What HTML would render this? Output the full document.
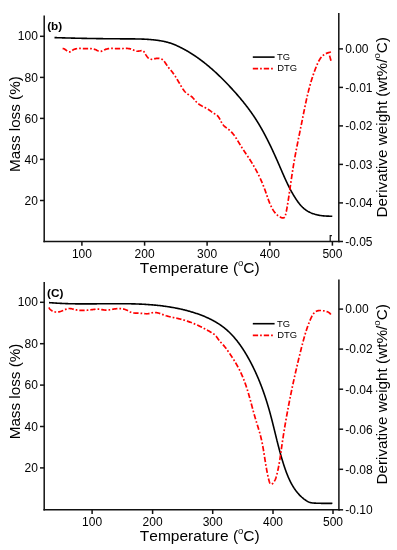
<!DOCTYPE html>
<html><head><meta charset="utf-8"><style>
html,body{margin:0;padding:0;background:#fff;}
svg{display:block;will-change:transform;}
text{font-family:"Liberation Sans", sans-serif;fill:#000;font-kerning:none;}
</style></head><body>
<svg width="397" height="550" viewBox="0 0 397 550">
<rect width="397" height="550" fill="#fff"/>
<line x1="44.2" y1="15.5" x2="44.2" y2="242.25" stroke="#111" stroke-width="1.5"/>
<line x1="338.8" y1="13.1" x2="338.8" y2="242.25" stroke="#111" stroke-width="1.5"/>
<line x1="43.45" y1="241.5" x2="339.55" y2="241.5" stroke="#111" stroke-width="1.5"/>
<line x1="40.0" y1="36.3" x2="44.2" y2="36.3" stroke="#111" stroke-width="1.5"/>
<text x="37.900000000000006" y="40.4" text-anchor="end" font-size="12">100</text>
<line x1="40.0" y1="77.4" x2="44.2" y2="77.4" stroke="#111" stroke-width="1.5"/>
<text x="37.900000000000006" y="81.5" text-anchor="end" font-size="12">80</text>
<line x1="40.0" y1="118.4" x2="44.2" y2="118.4" stroke="#111" stroke-width="1.5"/>
<text x="37.900000000000006" y="122.5" text-anchor="end" font-size="12">60</text>
<line x1="40.0" y1="159.4" x2="44.2" y2="159.4" stroke="#111" stroke-width="1.5"/>
<text x="37.900000000000006" y="163.5" text-anchor="end" font-size="12">40</text>
<line x1="40.0" y1="200.5" x2="44.2" y2="200.5" stroke="#111" stroke-width="1.5"/>
<text x="37.900000000000006" y="204.6" text-anchor="end" font-size="12">20</text>
<line x1="81.9" y1="241.5" x2="81.9" y2="245.7" stroke="#111" stroke-width="1.5"/>
<text x="81.9" y="257.6" text-anchor="middle" font-size="12">100</text>
<line x1="144.6" y1="241.5" x2="144.6" y2="245.7" stroke="#111" stroke-width="1.5"/>
<text x="144.6" y="257.6" text-anchor="middle" font-size="12">200</text>
<line x1="207.1" y1="241.5" x2="207.1" y2="245.7" stroke="#111" stroke-width="1.5"/>
<text x="207.1" y="257.6" text-anchor="middle" font-size="12">300</text>
<line x1="269.8" y1="241.5" x2="269.8" y2="245.7" stroke="#111" stroke-width="1.5"/>
<text x="269.8" y="257.6" text-anchor="middle" font-size="12">400</text>
<line x1="332.4" y1="241.5" x2="332.4" y2="245.7" stroke="#111" stroke-width="1.5"/>
<text x="332.4" y="257.6" text-anchor="middle" font-size="12">500</text>
<line x1="338.8" y1="48.9" x2="343.0" y2="48.9" stroke="#111" stroke-width="1.5"/>
<text x="345.2" y="53.199999999999996" font-size="12">0.00</text>
<line x1="338.8" y1="87.4" x2="343.0" y2="87.4" stroke="#111" stroke-width="1.5"/>
<text x="345.2" y="91.7" font-size="12">-0.01</text>
<line x1="338.8" y1="125.9" x2="343.0" y2="125.9" stroke="#111" stroke-width="1.5"/>
<text x="345.2" y="130.20000000000002" font-size="12">-0.02</text>
<line x1="338.8" y1="164.4" x2="343.0" y2="164.4" stroke="#111" stroke-width="1.5"/>
<text x="345.2" y="168.70000000000002" font-size="12">-0.03</text>
<line x1="338.8" y1="202.9" x2="343.0" y2="202.9" stroke="#111" stroke-width="1.5"/>
<text x="345.2" y="207.20000000000002" font-size="12">-0.04</text>
<line x1="338.8" y1="241.5" x2="343.0" y2="241.5" stroke="#111" stroke-width="1.5"/>
<text x="345.2" y="245.8" font-size="12">-0.05</text>
<text x="47.2" y="29.6" font-size="11.8" font-weight="bold">(b)</text>
<line x1="252.8" y1="57.1" x2="274.6" y2="57.1" stroke="#000" stroke-width="1.6"/>
<text x="277" y="59.9" font-size="9.4">TG</text>
<line x1="252.8" y1="68.7" x2="274.6" y2="68.7" stroke="#f00" stroke-width="1.7" stroke-dasharray="5.3 2 1.7 2"/>
<text x="277.2" y="71.3" font-size="9.4">DTG</text>
<text x="199.8" y="273.2" text-anchor="middle" font-size="15.5">Temperature (<tspan font-size="9.5" dy="-7.3">o</tspan><tspan dy="7.3">C)</tspan></text>
<text transform="translate(20.4,124.05) rotate(-90)" text-anchor="middle" font-size="15.25">Mass loss (%)</text>
<text transform="translate(387.3,127.3) rotate(-90)" text-anchor="middle" font-size="15.3">Derivative weight (wt%/<tspan font-size="9.5" dy="-7.3">o</tspan><tspan dy="7.3">C)</tspan></text>
<line x1="44.2" y1="281.9" x2="44.2" y2="510.55" stroke="#111" stroke-width="1.5"/>
<line x1="338.9" y1="279.4" x2="338.9" y2="510.55" stroke="#111" stroke-width="1.5"/>
<line x1="43.45" y1="509.8" x2="339.65" y2="509.8" stroke="#111" stroke-width="1.5"/>
<line x1="40.0" y1="302.3" x2="44.2" y2="302.3" stroke="#111" stroke-width="1.5"/>
<text x="37.900000000000006" y="306.40000000000003" text-anchor="end" font-size="12">100</text>
<line x1="40.0" y1="343.7" x2="44.2" y2="343.7" stroke="#111" stroke-width="1.5"/>
<text x="37.900000000000006" y="347.8" text-anchor="end" font-size="12">80</text>
<line x1="40.0" y1="385.1" x2="44.2" y2="385.1" stroke="#111" stroke-width="1.5"/>
<text x="37.900000000000006" y="389.20000000000005" text-anchor="end" font-size="12">60</text>
<line x1="40.0" y1="426.5" x2="44.2" y2="426.5" stroke="#111" stroke-width="1.5"/>
<text x="37.900000000000006" y="430.6" text-anchor="end" font-size="12">40</text>
<line x1="40.0" y1="467.9" x2="44.2" y2="467.9" stroke="#111" stroke-width="1.5"/>
<text x="37.900000000000006" y="472.0" text-anchor="end" font-size="12">20</text>
<line x1="92.1" y1="509.8" x2="92.1" y2="514.0" stroke="#111" stroke-width="1.5"/>
<text x="92.1" y="526.2" text-anchor="middle" font-size="12">100</text>
<line x1="152.6" y1="509.8" x2="152.6" y2="514.0" stroke="#111" stroke-width="1.5"/>
<text x="152.6" y="526.2" text-anchor="middle" font-size="12">200</text>
<line x1="212.7" y1="509.8" x2="212.7" y2="514.0" stroke="#111" stroke-width="1.5"/>
<text x="212.7" y="526.2" text-anchor="middle" font-size="12">300</text>
<line x1="273.0" y1="509.8" x2="273.0" y2="514.0" stroke="#111" stroke-width="1.5"/>
<text x="273.0" y="526.2" text-anchor="middle" font-size="12">400</text>
<line x1="333.0" y1="509.8" x2="333.0" y2="514.0" stroke="#111" stroke-width="1.5"/>
<text x="333.0" y="526.2" text-anchor="middle" font-size="12">500</text>
<line x1="338.9" y1="309.1" x2="343.09999999999997" y2="309.1" stroke="#111" stroke-width="1.5"/>
<text x="345.29999999999995" y="313.40000000000003" font-size="12">0.00</text>
<line x1="338.9" y1="349.1" x2="343.09999999999997" y2="349.1" stroke="#111" stroke-width="1.5"/>
<text x="345.29999999999995" y="353.40000000000003" font-size="12">-0.02</text>
<line x1="338.9" y1="389.2" x2="343.09999999999997" y2="389.2" stroke="#111" stroke-width="1.5"/>
<text x="345.29999999999995" y="393.5" font-size="12">-0.04</text>
<line x1="338.9" y1="429.2" x2="343.09999999999997" y2="429.2" stroke="#111" stroke-width="1.5"/>
<text x="345.29999999999995" y="433.5" font-size="12">-0.06</text>
<line x1="338.9" y1="469.3" x2="343.09999999999997" y2="469.3" stroke="#111" stroke-width="1.5"/>
<text x="345.29999999999995" y="473.6" font-size="12">-0.08</text>
<line x1="338.9" y1="509.8" x2="343.09999999999997" y2="509.8" stroke="#111" stroke-width="1.5"/>
<text x="345.29999999999995" y="514.1" font-size="12">-0.10</text>
<text x="47.0" y="297.2" font-size="11.8" font-weight="bold">(C)</text>
<line x1="252.8" y1="323.7" x2="274.6" y2="323.7" stroke="#000" stroke-width="1.6"/>
<text x="277" y="326.5" font-size="9.4">TG</text>
<line x1="252.8" y1="335.3" x2="274.6" y2="335.3" stroke="#f00" stroke-width="1.7" stroke-dasharray="5.3 2 1.7 2"/>
<text x="277.2" y="337.90000000000003" font-size="9.4">DTG</text>
<text x="199.8" y="541.0" text-anchor="middle" font-size="15.5">Temperature (<tspan font-size="9.5" dy="-7.3">o</tspan><tspan dy="7.3">C)</tspan></text>
<text transform="translate(20.4,391.45) rotate(-90)" text-anchor="middle" font-size="15.25">Mass loss (%)</text>
<text transform="translate(387.3,394.4) rotate(-90)" text-anchor="middle" font-size="15.3">Derivative weight (wt%/<tspan font-size="9.5" dy="-7.3">o</tspan><tspan dy="7.3">C)</tspan></text>
<path d="M54.50,37.61 L55.20,37.63 L55.90,37.65 L56.60,37.67 L57.30,37.70 L58.00,37.72 L58.70,37.74 L59.40,37.76 L60.10,37.78 L60.80,37.80 L61.49,37.82 L62.19,37.84 L62.89,37.86 L63.59,37.88 L64.29,37.90 L64.99,37.92 L65.69,37.94 L66.39,37.96 L67.09,37.98 L67.79,38.00 L68.49,38.02 L69.19,38.03 L69.89,38.05 L70.59,38.07 L71.28,38.09 L71.98,38.10 L72.68,38.12 L73.38,38.14 L74.08,38.16 L74.78,38.17 L75.48,38.19 L76.18,38.20 L76.88,38.22 L77.58,38.24 L78.28,38.25 L78.97,38.27 L79.67,38.28 L80.37,38.30 L81.07,38.31 L81.77,38.33 L82.47,38.34 L83.17,38.35 L83.87,38.37 L84.57,38.38 L85.27,38.39 L85.97,38.41 L86.66,38.42 L87.36,38.43 L88.06,38.45 L88.76,38.46 L89.46,38.47 L90.16,38.48 L90.86,38.49 L91.56,38.51 L92.26,38.52 L92.96,38.53 L93.66,38.54 L94.35,38.55 L95.05,38.56 L95.75,38.57 L96.45,38.58 L97.15,38.59 L97.85,38.60 L98.55,38.61 L99.25,38.62 L99.95,38.63 L100.65,38.64 L101.35,38.65 L102.05,38.66 L102.75,38.67 L103.44,38.68 L104.14,38.68 L104.84,38.69 L105.54,38.70 L106.24,38.71 L106.94,38.72 L107.64,38.72 L108.34,38.73 L109.04,38.74 L109.74,38.74 L110.44,38.75 L111.14,38.76 L111.84,38.76 L112.54,38.77 L113.24,38.78 L113.94,38.78 L114.64,38.79 L115.34,38.79 L116.04,38.80 L116.74,38.80 L117.44,38.81 L118.14,38.81 L118.84,38.82 L119.54,38.82 L120.24,38.83 L120.94,38.83 L121.64,38.83 L122.34,38.84 L123.04,38.84 L123.74,38.84 L124.44,38.85 L125.14,38.85 L125.84,38.85 L126.54,38.86 L127.24,38.86 L127.94,38.86 L128.64,38.87 L129.35,38.87 L130.05,38.87 L130.75,38.88 L131.45,38.88 L132.15,38.89 L132.85,38.90 L133.55,38.90 L134.25,38.91 L134.95,38.92 L135.65,38.93 L136.35,38.94 L137.05,38.95 L137.75,38.97 L138.45,38.98 L139.15,39.00 L139.85,39.02 L140.55,39.04 L141.25,39.06 L141.95,39.09 L142.65,39.11 L143.35,39.14 L144.05,39.17 L144.75,39.21 L145.45,39.24 L146.15,39.28 L146.84,39.32 L147.54,39.36 L148.24,39.41 L148.94,39.46 L149.64,39.51 L150.33,39.56 L151.03,39.62 L151.73,39.68 L152.42,39.75 L153.12,39.81 L153.82,39.88 L154.51,39.96 L155.21,40.03 L155.90,40.12 L156.60,40.20 L157.29,40.29 L157.99,40.39 L158.68,40.48 L159.37,40.59 L160.06,40.70 L160.75,40.81 L161.44,40.93 L162.13,41.06 L162.82,41.19 L163.50,41.33 L164.19,41.47 L164.87,41.62 L165.55,41.78 L166.22,41.94 L166.90,42.11 L167.57,42.29 L168.24,42.48 L168.91,42.68 L169.58,42.88 L170.24,43.09 L170.90,43.31 L171.56,43.54 L172.21,43.78 L172.86,44.02 L173.51,44.28 L174.16,44.53 L174.81,44.80 L175.45,45.07 L176.09,45.35 L176.73,45.63 L177.36,45.92 L178.00,46.21 L178.63,46.51 L179.26,46.81 L179.88,47.12 L180.51,47.43 L181.13,47.74 L181.75,48.06 L182.37,48.38 L182.99,48.70 L183.61,49.03 L184.22,49.36 L184.83,49.69 L185.44,50.03 L186.05,50.37 L186.65,50.72 L187.25,51.06 L187.86,51.41 L188.46,51.77 L189.05,52.13 L189.65,52.49 L190.24,52.85 L190.83,53.22 L191.42,53.59 L192.01,53.96 L192.60,54.34 L193.18,54.71 L193.77,55.10 L194.35,55.48 L194.93,55.87 L195.50,56.26 L196.08,56.65 L196.65,57.05 L197.22,57.45 L197.79,57.85 L198.36,58.26 L198.93,58.66 L199.49,59.07 L200.06,59.48 L200.62,59.90 L201.18,60.32 L201.74,60.74 L202.29,61.16 L202.85,61.59 L203.40,62.01 L203.95,62.44 L204.50,62.88 L205.05,63.31 L205.60,63.75 L206.14,64.19 L206.68,64.63 L207.23,65.07 L207.77,65.52 L208.30,65.97 L208.84,66.42 L209.38,66.87 L209.91,67.32 L210.44,67.78 L210.97,68.24 L211.50,68.70 L212.03,69.16 L212.56,69.63 L213.08,70.09 L213.60,70.56 L214.12,71.03 L214.64,71.50 L215.16,71.98 L215.68,72.45 L216.20,72.93 L216.71,73.41 L217.22,73.89 L217.73,74.37 L218.24,74.85 L218.75,75.34 L219.26,75.82 L219.77,76.31 L220.27,76.80 L220.77,77.29 L221.27,77.78 L221.78,78.28 L222.27,78.77 L222.77,79.27 L223.27,79.76 L223.76,80.26 L224.26,80.76 L224.75,81.26 L225.24,81.77 L225.73,82.27 L226.22,82.77 L226.71,83.28 L227.19,83.79 L227.68,84.29 L228.16,84.80 L228.64,85.31 L229.12,85.82 L229.60,86.33 L230.08,86.84 L230.56,87.36 L231.04,87.87 L231.51,88.38 L231.99,88.90 L232.46,89.41 L232.93,89.93 L233.40,90.45 L233.87,90.97 L234.34,91.49 L234.80,92.01 L235.27,92.53 L235.73,93.05 L236.19,93.58 L236.65,94.10 L237.11,94.63 L237.57,95.15 L238.03,95.68 L238.48,96.21 L238.94,96.74 L239.39,97.27 L239.84,97.80 L240.29,98.33 L240.73,98.87 L241.18,99.40 L241.62,99.94 L242.07,100.48 L242.51,101.02 L242.94,101.56 L243.38,102.10 L243.82,102.64 L244.25,103.18 L244.68,103.73 L245.11,104.27 L245.54,104.82 L245.97,105.37 L246.39,105.92 L246.82,106.47 L247.24,107.02 L247.66,107.58 L248.08,108.13 L248.49,108.69 L248.91,109.25 L249.32,109.81 L249.73,110.37 L250.14,110.93 L250.54,111.49 L250.95,112.06 L251.35,112.63 L251.75,113.20 L252.15,113.77 L252.54,114.34 L252.94,114.91 L253.33,115.48 L253.72,116.06 L254.11,116.64 L254.49,117.22 L254.88,117.80 L255.26,118.38 L255.64,118.97 L256.01,119.55 L256.39,120.14 L256.76,120.73 L257.13,121.32 L257.50,121.91 L257.87,122.50 L258.23,123.10 L258.59,123.70 L258.95,124.29 L259.31,124.89 L259.67,125.49 L260.02,126.10 L260.37,126.70 L260.73,127.30 L261.07,127.91 L261.42,128.52 L261.77,129.13 L262.11,129.74 L262.45,130.35 L262.79,130.96 L263.13,131.57 L263.47,132.19 L263.80,132.80 L264.14,133.42 L264.47,134.04 L264.80,134.66 L265.13,135.28 L265.45,135.90 L265.78,136.52 L266.10,137.14 L266.42,137.76 L266.75,138.39 L267.06,139.02 L267.38,139.64 L267.70,140.27 L268.02,140.90 L268.33,141.53 L268.64,142.16 L268.95,142.79 L269.26,143.42 L269.57,144.05 L269.88,144.68 L270.19,145.31 L270.49,145.95 L270.79,146.58 L271.10,147.22 L271.40,147.85 L271.70,148.49 L272.00,149.13 L272.30,149.76 L272.59,150.40 L272.89,151.04 L273.19,151.68 L273.48,152.32 L273.77,152.96 L274.07,153.60 L274.36,154.24 L274.65,154.88 L274.94,155.52 L275.23,156.16 L275.52,156.80 L275.80,157.44 L276.09,158.09 L276.38,158.73 L276.66,159.37 L276.94,160.01 L277.23,160.66 L277.51,161.30 L277.79,161.94 L278.08,162.58 L278.36,163.23 L278.64,163.87 L278.92,164.51 L279.20,165.16 L279.48,165.80 L279.75,166.44 L280.03,167.08 L280.31,167.73 L280.59,168.37 L280.86,169.01 L281.14,169.65 L281.42,170.30 L281.70,170.94 L281.97,171.58 L282.25,172.22 L282.53,172.86 L282.81,173.50 L283.09,174.14 L283.37,174.78 L283.65,175.42 L283.93,176.06 L284.21,176.69 L284.50,177.33 L284.78,177.97 L285.07,178.60 L285.36,179.24 L285.65,179.87 L285.94,180.50 L286.23,181.14 L286.52,181.77 L286.82,182.40 L287.12,183.03 L287.42,183.66 L287.72,184.29 L288.03,184.91 L288.34,185.54 L288.65,186.17 L288.96,186.79 L289.28,187.41 L289.60,188.03 L289.92,188.65 L290.24,189.27 L290.57,189.89 L290.90,190.51 L291.24,191.12 L291.57,191.74 L291.92,192.35 L292.26,192.96 L292.61,193.57 L292.96,194.18 L293.32,194.79 L293.68,195.39 L294.05,196.00 L294.42,196.60 L294.79,197.20 L295.17,197.80 L295.55,198.39 L295.94,198.99 L296.33,199.58 L296.73,200.17 L297.13,200.75 L297.54,201.33 L297.96,201.91 L298.38,202.47 L298.81,203.04 L299.24,203.59 L299.69,204.14 L300.14,204.67 L300.60,205.20 L301.06,205.72 L301.54,206.23 L302.02,206.73 L302.51,207.22 L303.01,207.69 L303.52,208.16 L304.04,208.61 L304.57,209.04 L305.11,209.46 L305.66,209.87 L306.22,210.26 L306.79,210.64 L307.37,211.00 L307.96,211.35 L308.56,211.68 L309.16,212.00 L309.77,212.31 L310.39,212.60 L311.02,212.88 L311.66,213.14 L312.30,213.39 L312.95,213.63 L313.60,213.86 L314.26,214.07 L314.93,214.28 L315.60,214.47 L316.28,214.65 L316.96,214.81 L317.64,214.97 L318.33,215.11 L319.02,215.24 L319.71,215.37 L320.41,215.48 L321.11,215.58 L321.81,215.67 L322.51,215.75 L323.22,215.83 L323.92,215.89 L324.63,215.95 L325.33,216.00 L326.04,216.05 L326.74,216.09 L327.44,216.12 L328.15,216.15 L328.85,216.17 L329.54,216.20 L330.24,216.21 L330.93,216.23 L331.62,216.25 L332.30,216.26" fill="none" stroke="#000" stroke-width="1.6"/>
<path d="M62.60,48.59 L63.24,48.59 L63.88,48.76 L64.51,49.07 L65.15,49.47 L65.79,49.94 L66.42,50.43 L67.05,50.90 L67.67,51.33 L68.29,51.67 L68.90,51.88 L69.50,51.94 L70.09,51.82 L70.68,51.54 L71.26,51.17 L71.85,50.74 L72.45,50.31 L73.06,49.91 L73.69,49.58 L74.33,49.30 L74.99,49.07 L75.65,48.88 L76.33,48.73 L77.02,48.62 L77.71,48.55 L78.41,48.50 L79.12,48.47 L79.83,48.47 L80.54,48.47 L81.26,48.49 L81.97,48.52 L82.69,48.54 L83.40,48.57 L84.11,48.58 L84.82,48.59 L85.52,48.59 L86.22,48.58 L86.92,48.57 L87.62,48.57 L88.31,48.57 L89.01,48.58 L89.70,48.60 L90.40,48.63 L91.09,48.68 L91.79,48.75 L92.49,48.85 L93.18,48.97 L93.88,49.13 L94.56,49.33 L95.24,49.56 L95.90,49.84 L96.55,50.14 L97.20,50.46 L97.84,50.75 L98.47,51.01 L99.10,51.22 L99.73,51.35 L100.36,51.38 L100.99,51.31 L101.63,51.14 L102.27,50.90 L102.91,50.62 L103.56,50.31 L104.22,49.99 L104.87,49.68 L105.53,49.41 L106.20,49.18 L106.87,48.98 L107.55,48.82 L108.23,48.70 L108.91,48.60 L109.60,48.52 L110.29,48.47 L110.98,48.44 L111.68,48.43 L112.38,48.43 L113.08,48.44 L113.78,48.47 L114.49,48.50 L115.20,48.53 L115.91,48.56 L116.62,48.60 L117.33,48.62 L118.04,48.64 L118.75,48.65 L119.47,48.65 L120.18,48.63 L120.89,48.61 L121.60,48.58 L122.31,48.55 L123.02,48.51 L123.73,48.48 L124.43,48.46 L125.13,48.44 L125.83,48.43 L126.53,48.44 L127.22,48.47 L127.91,48.51 L128.60,48.58 L129.28,48.67 L129.95,48.79 L130.62,48.94 L131.29,49.12 L131.94,49.34 L132.60,49.60 L133.24,49.89 L133.89,50.21 L134.53,50.52 L135.19,50.80 L135.85,51.03 L136.53,51.18 L137.22,51.24 L137.93,51.21 L138.64,51.13 L139.35,51.00 L140.04,50.86 L140.70,50.71 L141.34,50.59 L141.93,50.53 L142.48,50.58 L142.97,50.75 L143.41,51.05 L143.81,51.46 L144.18,51.97 L144.54,52.54 L144.91,53.16 L145.28,53.81 L145.66,54.48 L146.07,55.14 L146.50,55.79 L146.94,56.42 L147.41,57.02 L147.90,57.57 L148.41,58.07 L148.95,58.50 L149.52,58.84 L150.11,59.10 L150.72,59.25 L151.37,59.29 L152.03,59.25 L152.72,59.14 L153.43,58.99 L154.14,58.83 L154.86,58.67 L155.59,58.54 L156.31,58.43 L157.03,58.35 L157.74,58.31 L158.44,58.31 L159.13,58.35 L159.79,58.45 L160.43,58.60 L161.05,58.80 L161.63,59.08 L162.18,59.42 L162.70,59.81 L163.20,60.26 L163.68,60.75 L164.14,61.28 L164.58,61.85 L165.01,62.43 L165.43,63.04 L165.84,63.66 L166.25,64.29 L166.65,64.91 L167.06,65.53 L167.48,66.14 L167.90,66.73 L168.34,67.30 L168.78,67.84 L169.22,68.38 L169.67,68.90 L170.12,69.42 L170.56,69.94 L171.00,70.46 L171.44,70.98 L171.87,71.52 L172.29,72.06 L172.71,72.61 L173.12,73.16 L173.52,73.72 L173.92,74.29 L174.31,74.87 L174.70,75.45 L175.08,76.03 L175.46,76.62 L175.83,77.22 L176.21,77.82 L176.57,78.42 L176.94,79.02 L177.30,79.63 L177.66,80.24 L178.02,80.85 L178.38,81.46 L178.73,82.07 L179.09,82.69 L179.45,83.30 L179.80,83.91 L180.16,84.52 L180.51,85.14 L180.87,85.74 L181.23,86.35 L181.59,86.95 L181.96,87.55 L182.33,88.15 L182.70,88.73 L183.09,89.31 L183.48,89.88 L183.89,90.43 L184.31,90.98 L184.75,91.50 L185.21,92.01 L185.69,92.50 L186.19,92.97 L186.71,93.41 L187.26,93.83 L187.84,94.23 L188.44,94.60 L189.06,94.96 L189.68,95.32 L190.29,95.69 L190.89,96.08 L191.45,96.51 L191.99,96.97 L192.50,97.45 L192.99,97.96 L193.46,98.49 L193.92,99.03 L194.37,99.58 L194.82,100.13 L195.27,100.68 L195.72,101.22 L196.19,101.75 L196.66,102.26 L197.16,102.74 L197.67,103.20 L198.21,103.64 L198.76,104.05 L199.32,104.45 L199.90,104.82 L200.50,105.18 L201.10,105.53 L201.71,105.87 L202.33,106.20 L202.95,106.52 L203.58,106.84 L204.21,107.16 L204.83,107.48 L205.46,107.80 L206.08,108.13 L206.69,108.47 L207.30,108.82 L207.90,109.19 L208.49,109.56 L209.06,109.95 L209.63,110.36 L210.20,110.76 L210.76,111.17 L211.32,111.59 L211.89,111.99 L212.46,112.40 L213.03,112.79 L213.62,113.17 L214.21,113.53 L214.82,113.88 L215.43,114.22 L216.02,114.57 L216.58,114.95 L217.11,115.38 L217.59,115.84 L218.04,116.35 L218.45,116.88 L218.84,117.44 L219.21,118.03 L219.56,118.63 L219.89,119.25 L220.22,119.88 L220.55,120.51 L220.87,121.15 L221.20,121.79 L221.54,122.41 L221.89,123.03 L222.26,123.63 L222.65,124.21 L223.07,124.77 L223.52,125.30 L224.00,125.80 L224.51,126.28 L225.03,126.75 L225.57,127.19 L226.13,127.63 L226.69,128.06 L227.26,128.48 L227.82,128.90 L228.39,129.33 L228.94,129.76 L229.49,130.21 L230.02,130.67 L230.53,131.14 L231.03,131.62 L231.51,132.12 L231.99,132.63 L232.45,133.15 L232.90,133.68 L233.33,134.22 L233.76,134.77 L234.18,135.33 L234.59,135.89 L234.99,136.46 L235.39,137.04 L235.78,137.62 L236.16,138.21 L236.54,138.81 L236.91,139.41 L237.28,140.01 L237.64,140.61 L238.01,141.22 L238.37,141.82 L238.73,142.43 L239.09,143.04 L239.45,143.64 L239.82,144.25 L240.18,144.85 L240.55,145.45 L240.92,146.05 L241.29,146.65 L241.67,147.24 L242.04,147.83 L242.42,148.42 L242.80,149.01 L243.18,149.59 L243.57,150.18 L243.95,150.76 L244.34,151.34 L244.73,151.92 L245.11,152.50 L245.50,153.08 L245.89,153.66 L246.28,154.24 L246.67,154.82 L247.05,155.40 L247.44,155.98 L247.83,156.56 L248.21,157.14 L248.60,157.72 L248.98,158.30 L249.36,158.89 L249.74,159.47 L250.12,160.06 L250.50,160.65 L250.87,161.24 L251.24,161.83 L251.61,162.42 L251.98,163.02 L252.34,163.62 L252.70,164.22 L253.06,164.82 L253.42,165.43 L253.77,166.03 L254.12,166.64 L254.47,167.25 L254.82,167.86 L255.16,168.48 L255.50,169.09 L255.84,169.71 L256.18,170.33 L256.51,170.95 L256.84,171.57 L257.16,172.19 L257.49,172.82 L257.81,173.44 L258.12,174.07 L258.44,174.70 L258.75,175.33 L259.06,175.96 L259.37,176.60 L259.67,177.23 L259.97,177.87 L260.26,178.51 L260.56,179.14 L260.85,179.78 L261.13,180.42 L261.42,181.07 L261.70,181.71 L261.98,182.35 L262.25,183.00 L262.52,183.64 L262.79,184.29 L263.05,184.94 L263.31,185.59 L263.57,186.24 L263.82,186.89 L264.07,187.54 L264.32,188.19 L264.56,188.84 L264.80,189.49 L265.04,190.15 L265.27,190.80 L265.50,191.46 L265.73,192.11 L265.96,192.77 L266.18,193.42 L266.40,194.08 L266.62,194.74 L266.85,195.39 L267.07,196.05 L267.30,196.70 L267.52,197.36 L267.75,198.02 L267.98,198.67 L268.22,199.33 L268.46,199.98 L268.70,200.64 L268.95,201.29 L269.21,201.94 L269.47,202.59 L269.73,203.25 L270.01,203.90 L270.29,204.55 L270.58,205.19 L270.88,205.84 L271.19,206.49 L271.51,207.13 L271.84,207.77 L272.18,208.41 L272.53,209.04 L272.89,209.66 L273.27,210.27 L273.66,210.87 L274.07,211.46 L274.48,212.04 L274.92,212.60 L275.37,213.15 L275.84,213.67 L276.32,214.18 L276.82,214.67 L277.34,215.13 L277.88,215.58 L278.43,215.99 L279.01,216.38 L279.61,216.75 L280.23,217.08 L280.87,217.38 L281.51,217.63 L282.16,217.82 L282.78,217.92 L283.36,217.92 L283.89,217.80 L284.35,217.52 L284.73,217.09 L285.03,216.52 L285.28,215.85 L285.48,215.12 L285.66,214.37 L285.84,213.62 L286.00,212.88 L286.16,212.15 L286.32,211.42 L286.46,210.70 L286.60,209.99 L286.74,209.29 L286.87,208.58 L287.00,207.89 L287.12,207.19 L287.24,206.50 L287.36,205.81 L287.48,205.12 L287.59,204.44 L287.70,203.75 L287.81,203.07 L287.92,202.38 L288.03,201.70 L288.13,201.01 L288.24,200.32 L288.35,199.64 L288.45,198.95 L288.56,198.26 L288.66,197.57 L288.77,196.88 L288.87,196.19 L288.97,195.50 L289.07,194.82 L289.18,194.13 L289.28,193.43 L289.38,192.74 L289.48,192.05 L289.58,191.36 L289.68,190.67 L289.78,189.98 L289.88,189.29 L289.98,188.60 L290.08,187.90 L290.18,187.21 L290.28,186.52 L290.38,185.83 L290.48,185.13 L290.58,184.44 L290.68,183.75 L290.78,183.05 L290.88,182.36 L290.98,181.67 L291.08,180.97 L291.18,180.28 L291.28,179.59 L291.38,178.89 L291.49,178.20 L291.59,177.51 L291.69,176.81 L291.79,176.12 L291.90,175.43 L292.00,174.73 L292.11,174.04 L292.21,173.35 L292.32,172.65 L292.42,171.96 L292.53,171.27 L292.64,170.57 L292.75,169.88 L292.86,169.19 L292.97,168.49 L293.08,167.80 L293.19,167.11 L293.30,166.42 L293.42,165.72 L293.53,165.03 L293.65,164.34 L293.76,163.65 L293.88,162.96 L294.00,162.27 L294.12,161.58 L294.24,160.89 L294.36,160.19 L294.48,159.50 L294.60,158.81 L294.73,158.12 L294.85,157.43 L294.98,156.75 L295.10,156.06 L295.23,155.37 L295.36,154.68 L295.49,153.99 L295.62,153.30 L295.75,152.61 L295.88,151.92 L296.01,151.23 L296.14,150.55 L296.27,149.86 L296.40,149.17 L296.54,148.48 L296.67,147.79 L296.80,147.11 L296.94,146.42 L297.07,145.73 L297.21,145.04 L297.35,144.36 L297.48,143.67 L297.62,142.98 L297.76,142.30 L297.89,141.61 L298.03,140.92 L298.17,140.23 L298.31,139.55 L298.44,138.86 L298.58,138.17 L298.72,137.49 L298.86,136.80 L299.00,136.11 L299.14,135.43 L299.28,134.74 L299.42,134.06 L299.56,133.37 L299.70,132.68 L299.84,132.00 L299.98,131.31 L300.12,130.62 L300.26,129.94 L300.40,129.25 L300.53,128.56 L300.67,127.88 L300.81,127.19 L300.95,126.51 L301.09,125.82 L301.23,125.13 L301.37,124.45 L301.51,123.76 L301.65,123.07 L301.78,122.39 L301.92,121.70 L302.06,121.01 L302.20,120.33 L302.33,119.64 L302.47,118.95 L302.61,118.27 L302.74,117.58 L302.88,116.89 L303.02,116.21 L303.15,115.52 L303.29,114.83 L303.43,114.15 L303.56,113.46 L303.70,112.77 L303.84,112.09 L303.98,111.40 L304.12,110.72 L304.26,110.03 L304.40,109.34 L304.54,108.66 L304.68,107.97 L304.82,107.29 L304.96,106.60 L305.10,105.92 L305.25,105.23 L305.39,104.55 L305.54,103.86 L305.68,103.18 L305.83,102.49 L305.98,101.81 L306.13,101.13 L306.28,100.44 L306.43,99.76 L306.58,99.08 L306.74,98.40 L306.89,97.71 L307.05,97.03 L307.21,96.35 L307.37,95.67 L307.53,94.99 L307.69,94.31 L307.85,93.63 L308.02,92.95 L308.18,92.27 L308.35,91.59 L308.52,90.91 L308.70,90.23 L308.87,89.55 L309.05,88.88 L309.22,88.20 L309.40,87.52 L309.59,86.85 L309.77,86.17 L309.96,85.50 L310.14,84.82 L310.33,84.15 L310.53,83.47 L310.72,82.80 L310.92,82.13 L311.12,81.46 L311.32,80.78 L311.52,80.11 L311.73,79.44 L311.94,78.77 L312.15,78.10 L312.37,77.43 L312.58,76.77 L312.80,76.10 L313.03,75.43 L313.25,74.77 L313.48,74.10 L313.71,73.44 L313.95,72.77 L314.19,72.11 L314.43,71.44 L314.67,70.78 L314.92,70.12 L315.17,69.46 L315.42,68.80 L315.68,68.14 L315.94,67.48 L316.20,66.82 L316.46,66.17 L316.73,65.51 L317.01,64.86 L317.29,64.20 L317.57,63.55 L317.86,62.91 L318.16,62.27 L318.47,61.64 L318.79,61.02 L319.13,60.41 L319.47,59.81 L319.83,59.22 L320.21,58.65 L320.60,58.10 L321.02,57.56 L321.45,57.04 L321.90,56.54 L322.37,56.06 L322.87,55.60 L323.39,55.17 L323.93,54.76 L324.51,54.38 L325.11,54.03 L325.73,53.70 L326.39,53.41 L327.08,53.14 L327.78,52.90 L328.49,52.67 L329.19,52.44 L329.89,52.22 L330.57,51.99 L331.22,51.75 L331.83,51.49 L332.39,51.21" fill="none" stroke="#f00" stroke-width="1.7" stroke-dasharray="5.3 2 1.7 2"/>
<polyline points="329.6,55.6 331.0,60.8" fill="none" stroke="#f00" stroke-width="1.7"/>
<path d="M49.03,302.58 L49.73,302.65 L50.42,302.70 L51.11,302.76 L51.80,302.82 L52.50,302.87 L53.19,302.92 L53.88,302.97 L54.58,303.02 L55.27,303.07 L55.97,303.11 L56.66,303.16 L57.36,303.20 L58.05,303.24 L58.75,303.28 L59.44,303.31 L60.14,303.35 L60.83,303.39 L61.53,303.42 L62.23,303.45 L62.92,303.48 L63.62,303.51 L64.32,303.54 L65.02,303.56 L65.71,303.59 L66.41,303.61 L67.11,303.64 L67.81,303.66 L68.51,303.68 L69.21,303.70 L69.91,303.72 L70.60,303.73 L71.30,303.75 L72.00,303.77 L72.70,303.78 L73.40,303.79 L74.10,303.80 L74.80,303.82 L75.50,303.83 L76.20,303.84 L76.90,303.84 L77.60,303.85 L78.31,303.86 L79.01,303.86 L79.71,303.87 L80.41,303.87 L81.11,303.88 L81.81,303.88 L82.51,303.88 L83.22,303.89 L83.92,303.89 L84.62,303.89 L85.32,303.89 L86.02,303.89 L86.73,303.89 L87.43,303.88 L88.13,303.88 L88.83,303.88 L89.53,303.88 L90.24,303.87 L90.94,303.87 L91.64,303.86 L92.35,303.86 L93.05,303.86 L93.75,303.85 L94.45,303.84 L95.16,303.84 L95.86,303.83 L96.56,303.83 L97.27,303.82 L97.97,303.82 L98.67,303.81 L99.38,303.80 L100.08,303.80 L100.78,303.79 L101.49,303.78 L102.19,303.78 L102.89,303.77 L103.60,303.76 L104.30,303.76 L105.00,303.75 L105.71,303.74 L106.41,303.74 L107.11,303.73 L107.82,303.73 L108.52,303.72 L109.22,303.72 L109.93,303.71 L110.63,303.71 L111.33,303.70 L112.03,303.70 L112.74,303.69 L113.44,303.69 L114.14,303.69 L114.85,303.69 L115.55,303.68 L116.25,303.68 L116.95,303.68 L117.66,303.68 L118.36,303.68 L119.06,303.68 L119.76,303.68 L120.46,303.69 L121.17,303.69 L121.87,303.69 L122.57,303.70 L123.27,303.70 L123.97,303.71 L124.68,303.71 L125.38,303.72 L126.08,303.73 L126.78,303.74 L127.48,303.75 L128.18,303.76 L128.88,303.77 L129.58,303.78 L130.28,303.80 L130.98,303.81 L131.68,303.83 L132.38,303.84 L133.08,303.86 L133.78,303.88 L134.48,303.90 L135.18,303.92 L135.88,303.94 L136.58,303.97 L137.28,303.99 L137.98,304.02 L138.67,304.05 L139.37,304.08 L140.07,304.11 L140.77,304.14 L141.47,304.17 L142.16,304.20 L142.86,304.24 L143.56,304.28 L144.25,304.31 L144.95,304.35 L145.65,304.40 L146.34,304.44 L147.04,304.48 L147.73,304.53 L148.43,304.58 L149.12,304.63 L149.82,304.68 L150.51,304.73 L151.21,304.78 L151.90,304.84 L152.60,304.90 L153.29,304.96 L153.98,305.02 L154.67,305.08 L155.37,305.15 L156.06,305.22 L156.75,305.28 L157.44,305.36 L158.13,305.43 L158.83,305.50 L159.52,305.58 L160.21,305.66 L160.90,305.74 L161.59,305.82 L162.28,305.91 L162.97,306.00 L163.65,306.09 L164.34,306.18 L165.03,306.27 L165.72,306.37 L166.41,306.46 L167.09,306.57 L167.78,306.67 L168.47,306.77 L169.15,306.88 L169.84,306.99 L170.52,307.10 L171.21,307.22 L171.89,307.34 L172.58,307.45 L173.26,307.58 L173.95,307.70 L174.63,307.83 L175.31,307.96 L175.99,308.09 L176.67,308.23 L177.36,308.36 L178.04,308.50 L178.72,308.65 L179.40,308.79 L180.08,308.94 L180.76,309.09 L181.44,309.25 L182.11,309.40 L182.79,309.56 L183.47,309.72 L184.15,309.89 L184.82,310.06 L185.50,310.23 L186.18,310.40 L186.85,310.58 L187.53,310.76 L188.20,310.94 L188.87,311.13 L189.55,311.32 L190.22,311.51 L190.89,311.71 L191.56,311.91 L192.24,312.11 L192.91,312.31 L193.58,312.52 L194.25,312.73 L194.92,312.95 L195.58,313.17 L196.25,313.39 L196.92,313.61 L197.58,313.84 L198.25,314.07 L198.91,314.31 L199.57,314.55 L200.23,314.79 L200.89,315.04 L201.55,315.29 L202.21,315.54 L202.86,315.80 L203.51,316.07 L204.16,316.33 L204.81,316.60 L205.46,316.88 L206.10,317.16 L206.75,317.44 L207.39,317.73 L208.03,318.02 L208.66,318.32 L209.29,318.62 L209.93,318.92 L210.55,319.23 L211.18,319.55 L211.80,319.86 L212.42,320.19 L213.04,320.52 L213.65,320.85 L214.26,321.19 L214.87,321.53 L215.47,321.88 L216.07,322.23 L216.67,322.59 L217.27,322.95 L217.86,323.32 L218.44,323.69 L219.03,324.07 L219.61,324.45 L220.18,324.84 L220.75,325.23 L221.32,325.63 L221.88,326.03 L222.44,326.44 L223.00,326.86 L223.55,327.28 L224.09,327.71 L224.63,328.14 L225.17,328.58 L225.70,329.02 L226.23,329.47 L226.75,329.93 L227.27,330.38 L227.79,330.85 L228.30,331.32 L228.80,331.79 L229.30,332.27 L229.80,332.76 L230.30,333.25 L230.79,333.74 L231.27,334.24 L231.75,334.74 L232.23,335.25 L232.70,335.76 L233.17,336.28 L233.64,336.80 L234.10,337.33 L234.56,337.85 L235.01,338.39 L235.46,338.92 L235.91,339.46 L236.35,340.01 L236.79,340.56 L237.22,341.11 L237.66,341.66 L238.08,342.22 L238.51,342.78 L238.93,343.34 L239.35,343.91 L239.76,344.48 L240.17,345.06 L240.58,345.63 L240.98,346.21 L241.39,346.79 L241.78,347.38 L242.18,347.96 L242.57,348.55 L242.96,349.14 L243.34,349.74 L243.73,350.33 L244.11,350.93 L244.48,351.53 L244.86,352.13 L245.23,352.74 L245.59,353.34 L245.96,353.95 L246.32,354.56 L246.68,355.17 L247.04,355.78 L247.39,356.39 L247.74,357.01 L248.09,357.62 L248.44,358.24 L248.78,358.86 L249.12,359.48 L249.46,360.10 L249.79,360.72 L250.13,361.34 L250.46,361.96 L250.79,362.58 L251.11,363.21 L251.44,363.83 L251.76,364.46 L252.08,365.08 L252.39,365.71 L252.71,366.34 L253.02,366.97 L253.33,367.60 L253.64,368.23 L253.94,368.86 L254.25,369.49 L254.55,370.12 L254.85,370.76 L255.14,371.39 L255.44,372.03 L255.73,372.66 L256.02,373.30 L256.30,373.94 L256.59,374.57 L256.87,375.21 L257.15,375.85 L257.43,376.49 L257.71,377.13 L257.98,377.78 L258.26,378.42 L258.53,379.06 L258.80,379.71 L259.06,380.35 L259.33,380.99 L259.59,381.64 L259.85,382.29 L260.11,382.93 L260.37,383.58 L260.62,384.23 L260.87,384.88 L261.12,385.53 L261.37,386.18 L261.62,386.83 L261.87,387.48 L262.11,388.13 L262.35,388.79 L262.59,389.44 L262.83,390.09 L263.06,390.75 L263.30,391.40 L263.53,392.06 L263.76,392.72 L263.99,393.37 L264.22,394.03 L264.44,394.69 L264.67,395.35 L264.89,396.01 L265.11,396.67 L265.33,397.33 L265.55,397.99 L265.76,398.65 L265.98,399.31 L266.19,399.97 L266.40,400.63 L266.61,401.30 L266.82,401.96 L267.02,402.62 L267.23,403.29 L267.43,403.95 L267.63,404.62 L267.83,405.29 L268.03,405.95 L268.23,406.62 L268.43,407.29 L268.62,407.95 L268.81,408.62 L269.01,409.29 L269.20,409.96 L269.39,410.63 L269.57,411.30 L269.76,411.97 L269.94,412.64 L270.13,413.31 L270.31,413.98 L270.49,414.65 L270.67,415.33 L270.85,416.00 L271.03,416.67 L271.21,417.34 L271.38,418.02 L271.56,418.69 L271.73,419.36 L271.90,420.04 L272.08,420.71 L272.25,421.39 L272.42,422.06 L272.59,422.74 L272.76,423.41 L272.93,424.09 L273.10,424.77 L273.27,425.44 L273.43,426.12 L273.60,426.80 L273.77,427.47 L273.93,428.15 L274.10,428.83 L274.27,429.50 L274.43,430.18 L274.60,430.86 L274.77,431.54 L274.93,432.22 L275.10,432.89 L275.26,433.57 L275.43,434.25 L275.60,434.93 L275.76,435.61 L275.93,436.29 L276.10,436.96 L276.26,437.64 L276.43,438.32 L276.60,439.00 L276.77,439.68 L276.94,440.36 L277.10,441.04 L277.28,441.72 L277.45,442.39 L277.62,443.07 L277.79,443.75 L277.96,444.43 L278.14,445.11 L278.31,445.79 L278.49,446.47 L278.66,447.14 L278.84,447.82 L279.02,448.50 L279.20,449.18 L279.38,449.86 L279.56,450.54 L279.74,451.21 L279.93,451.89 L280.11,452.57 L280.30,453.25 L280.49,453.92 L280.68,454.60 L280.87,455.28 L281.06,455.95 L281.26,456.63 L281.45,457.31 L281.65,457.98 L281.85,458.66 L282.05,459.33 L282.26,460.01 L282.46,460.68 L282.67,461.36 L282.88,462.03 L283.09,462.71 L283.30,463.38 L283.51,464.06 L283.73,464.73 L283.95,465.40 L284.17,466.08 L284.39,466.75 L284.62,467.42 L284.85,468.09 L285.08,468.76 L285.31,469.43 L285.55,470.10 L285.79,470.77 L286.03,471.43 L286.28,472.10 L286.53,472.76 L286.78,473.42 L287.04,474.08 L287.30,474.74 L287.56,475.40 L287.83,476.05 L288.10,476.70 L288.38,477.35 L288.66,477.99 L288.95,478.63 L289.24,479.27 L289.54,479.91 L289.84,480.54 L290.14,481.17 L290.45,481.80 L290.77,482.42 L291.09,483.03 L291.42,483.65 L291.75,484.26 L292.09,484.86 L292.44,485.46 L292.79,486.06 L293.15,486.65 L293.52,487.24 L293.89,487.82 L294.26,488.39 L294.65,488.96 L295.04,489.53 L295.44,490.09 L295.85,490.64 L296.26,491.19 L296.68,491.73 L297.11,492.26 L297.55,492.79 L297.99,493.32 L298.45,493.83 L298.91,494.34 L299.38,494.84 L299.85,495.34 L300.34,495.82 L300.84,496.30 L301.34,496.77 L301.85,497.24 L302.38,497.70 L302.91,498.14 L303.45,498.58 L304.00,499.02 L304.56,499.44 L305.13,499.85 L305.71,500.25 L306.30,500.64 L306.90,501.00 L307.51,501.34 L308.13,501.66 L308.76,501.94 L309.41,502.20 L310.06,502.42 L310.73,502.61 L311.40,502.76 L312.09,502.88 L312.78,502.97 L313.48,503.04 L314.18,503.10 L314.88,503.14 L315.59,503.17 L316.30,503.19 L317.00,503.21 L317.71,503.23 L318.41,503.25 L319.12,503.27 L319.82,503.29 L320.52,503.31 L321.22,503.33 L321.92,503.34 L322.62,503.35 L323.32,503.37 L324.02,503.38 L324.72,503.38 L325.41,503.39 L326.11,503.39 L326.81,503.39 L327.51,503.39 L328.20,503.39 L328.90,503.38 L329.60,503.37 L330.30,503.36 L331.00,503.35 L331.70,503.33 L332.40,503.30" fill="none" stroke="#000" stroke-width="1.6"/>
<path d="M48.99,307.41 L49.26,308.07 L49.61,308.68 L50.02,309.23 L50.49,309.74 L51.02,310.20 L51.60,310.60 L52.21,310.96 L52.86,311.27 L53.53,311.52 L54.22,311.73 L54.93,311.89 L55.64,311.99 L56.35,312.05 L57.05,312.06 L57.75,312.02 L58.43,311.93 L59.10,311.81 L59.77,311.65 L60.43,311.46 L61.09,311.25 L61.74,311.01 L62.39,310.76 L63.04,310.49 L63.69,310.21 L64.34,309.93 L64.99,309.65 L65.65,309.38 L66.31,309.12 L66.97,308.90 L67.63,308.72 L68.29,308.58 L68.96,308.50 L69.63,308.49 L70.30,308.54 L70.98,308.64 L71.66,308.78 L72.34,308.95 L73.02,309.13 L73.71,309.31 L74.40,309.49 L75.09,309.65 L75.78,309.80 L76.47,309.92 L77.17,310.04 L77.86,310.13 L78.56,310.22 L79.26,310.29 L79.96,310.34 L80.66,310.38 L81.36,310.41 L82.06,310.43 L82.76,310.44 L83.46,310.43 L84.16,310.42 L84.86,310.39 L85.56,310.36 L86.26,310.31 L86.96,310.26 L87.67,310.19 L88.37,310.12 L89.07,310.05 L89.77,309.96 L90.47,309.87 L91.16,309.77 L91.86,309.67 L92.56,309.57 L93.26,309.48 L93.95,309.39 L94.65,309.31 L95.34,309.24 L96.04,309.19 L96.73,309.16 L97.43,309.15 L98.12,309.17 L98.82,309.21 L99.51,309.28 L100.20,309.37 L100.90,309.47 L101.59,309.58 L102.29,309.69 L102.98,309.80 L103.68,309.90 L104.37,309.99 L105.07,310.05 L105.76,310.09 L106.46,310.10 L107.15,310.08 L107.85,310.04 L108.55,309.97 L109.24,309.87 L109.94,309.77 L110.64,309.65 L111.34,309.52 L112.03,309.39 L112.73,309.26 L113.43,309.13 L114.13,309.01 L114.84,308.90 L115.54,308.80 L116.24,308.72 L116.94,308.65 L117.64,308.59 L118.33,308.56 L119.03,308.54 L119.72,308.54 L120.41,308.57 L121.10,308.61 L121.78,308.69 L122.46,308.78 L123.13,308.91 L123.80,309.06 L124.46,309.24 L125.12,309.45 L125.77,309.70 L126.41,309.98 L127.05,310.29 L127.68,310.62 L128.31,310.96 L128.94,311.30 L129.57,311.64 L130.20,311.95 L130.85,312.23 L131.50,312.47 L132.17,312.66 L132.84,312.80 L133.53,312.91 L134.22,312.98 L134.92,313.03 L135.62,313.06 L136.33,313.08 L137.04,313.09 L137.74,313.12 L138.45,313.14 L139.16,313.18 L139.86,313.23 L140.56,313.28 L141.27,313.34 L141.97,313.40 L142.67,313.47 L143.37,313.54 L144.06,313.61 L144.76,313.68 L145.45,313.74 L146.15,313.77 L146.84,313.78 L147.54,313.75 L148.23,313.68 L148.93,313.56 L149.62,313.40 L150.31,313.22 L151.00,313.04 L151.69,312.86 L152.37,312.71 L153.05,312.59 L153.72,312.52 L154.39,312.48 L155.05,312.49 L155.71,312.53 L156.37,312.61 L157.02,312.72 L157.68,312.85 L158.33,313.02 L158.98,313.20 L159.64,313.40 L160.29,313.63 L160.95,313.86 L161.61,314.11 L162.27,314.36 L162.93,314.62 L163.59,314.87 L164.26,315.12 L164.93,315.36 L165.60,315.58 L166.27,315.80 L166.95,316.00 L167.62,316.19 L168.30,316.38 L168.98,316.55 L169.66,316.72 L170.35,316.88 L171.03,317.03 L171.71,317.18 L172.40,317.33 L173.08,317.47 L173.77,317.61 L174.45,317.76 L175.14,317.90 L175.82,318.04 L176.51,318.18 L177.19,318.33 L177.87,318.48 L178.55,318.64 L179.23,318.80 L179.91,318.97 L180.59,319.14 L181.27,319.32 L181.94,319.50 L182.62,319.69 L183.29,319.88 L183.96,320.08 L184.63,320.28 L185.30,320.49 L185.96,320.70 L186.63,320.92 L187.29,321.14 L187.96,321.37 L188.62,321.60 L189.28,321.84 L189.94,322.08 L190.59,322.33 L191.25,322.58 L191.90,322.83 L192.56,323.09 L193.21,323.35 L193.86,323.62 L194.50,323.89 L195.15,324.17 L195.80,324.44 L196.44,324.73 L197.08,325.01 L197.72,325.30 L198.36,325.60 L199.00,325.89 L199.63,326.20 L200.26,326.50 L200.90,326.81 L201.53,327.12 L202.16,327.43 L202.78,327.75 L203.41,328.07 L204.03,328.40 L204.65,328.72 L205.27,329.05 L205.89,329.39 L206.51,329.72 L207.12,330.06 L207.73,330.40 L208.34,330.75 L208.95,331.09 L209.56,331.44 L210.17,331.79 L210.77,332.15 L211.37,332.50 L211.97,332.86 L212.56,333.23 L213.15,333.60 L213.72,334.00 L214.27,334.41 L214.80,334.85 L215.30,335.32 L215.77,335.82 L216.22,336.35 L216.64,336.91 L217.06,337.48 L217.46,338.06 L217.86,338.65 L218.27,339.24 L218.68,339.82 L219.11,340.38 L219.55,340.94 L220.01,341.47 L220.48,342.00 L220.95,342.52 L221.43,343.03 L221.92,343.54 L222.40,344.05 L222.87,344.57 L223.34,345.09 L223.80,345.62 L224.25,346.15 L224.69,346.68 L225.13,347.23 L225.56,347.78 L225.98,348.33 L226.40,348.88 L226.82,349.44 L227.23,350.01 L227.63,350.58 L228.03,351.15 L228.43,351.72 L228.83,352.29 L229.22,352.87 L229.62,353.45 L230.01,354.03 L230.40,354.61 L230.79,355.20 L231.17,355.78 L231.56,356.37 L231.94,356.95 L232.33,357.54 L232.71,358.13 L233.08,358.73 L233.46,359.32 L233.83,359.91 L234.20,360.51 L234.57,361.11 L234.94,361.71 L235.30,362.31 L235.66,362.92 L236.01,363.52 L236.37,364.13 L236.72,364.74 L237.06,365.35 L237.41,365.96 L237.74,366.58 L238.08,367.20 L238.41,367.82 L238.74,368.44 L239.06,369.06 L239.38,369.68 L239.69,370.31 L240.00,370.94 L240.31,371.57 L240.61,372.20 L240.91,372.84 L241.20,373.48 L241.49,374.11 L241.77,374.75 L242.05,375.40 L242.33,376.04 L242.60,376.69 L242.87,377.33 L243.14,377.98 L243.40,378.63 L243.66,379.28 L243.91,379.93 L244.16,380.59 L244.41,381.24 L244.65,381.90 L244.89,382.55 L245.13,383.21 L245.37,383.87 L245.60,384.53 L245.83,385.19 L246.05,385.85 L246.27,386.51 L246.49,387.17 L246.71,387.84 L246.92,388.50 L247.14,389.17 L247.34,389.83 L247.55,390.50 L247.76,391.16 L247.96,391.83 L248.16,392.50 L248.36,393.17 L248.55,393.84 L248.75,394.51 L248.94,395.17 L249.13,395.85 L249.32,396.52 L249.51,397.19 L249.70,397.86 L249.88,398.53 L250.07,399.20 L250.25,399.88 L250.44,400.55 L250.62,401.22 L250.80,401.90 L250.98,402.57 L251.17,403.24 L251.35,403.92 L251.53,404.59 L251.71,405.27 L251.89,405.94 L252.07,406.62 L252.25,407.30 L252.43,407.97 L252.61,408.65 L252.80,409.32 L252.98,410.00 L253.16,410.68 L253.35,411.36 L253.53,412.03 L253.72,412.71 L253.91,413.39 L254.10,414.06 L254.29,414.74 L254.48,415.42 L254.67,416.10 L254.87,416.77 L255.07,417.45 L255.27,418.13 L255.47,418.81 L255.67,419.48 L255.87,420.16 L256.08,420.84 L256.29,421.51 L256.49,422.19 L256.70,422.87 L256.91,423.54 L257.12,424.22 L257.33,424.90 L257.54,425.58 L257.75,426.25 L257.95,426.93 L258.16,427.61 L258.36,428.28 L258.57,428.96 L258.77,429.64 L258.97,430.31 L259.17,430.99 L259.37,431.67 L259.56,432.34 L259.75,433.02 L259.94,433.70 L260.13,434.37 L260.31,435.05 L260.49,435.73 L260.66,436.40 L260.83,437.08 L261.00,437.76 L261.16,438.43 L261.32,439.11 L261.48,439.79 L261.63,440.46 L261.78,441.14 L261.92,441.82 L262.06,442.49 L262.20,443.17 L262.34,443.85 L262.47,444.53 L262.60,445.21 L262.73,445.89 L262.85,446.56 L262.97,447.24 L263.09,447.92 L263.21,448.60 L263.33,449.29 L263.45,449.97 L263.56,450.65 L263.67,451.33 L263.78,452.01 L263.89,452.70 L264.00,453.38 L264.11,454.07 L264.22,454.75 L264.33,455.44 L264.44,456.13 L264.54,456.82 L264.65,457.50 L264.76,458.19 L264.86,458.89 L264.97,459.58 L265.08,460.27 L265.19,460.96 L265.30,461.66 L265.41,462.35 L265.52,463.05 L265.63,463.75 L265.75,464.45 L265.86,465.15 L265.98,465.85 L266.10,466.55 L266.22,467.26 L266.34,467.96 L266.47,468.67 L266.60,469.37 L266.73,470.08 L266.86,470.79 L267.00,471.51 L267.14,472.22 L267.28,472.93 L267.42,473.65 L267.57,474.37 L267.72,475.09 L267.88,475.81 L268.04,476.53 L268.20,477.26 L268.37,477.98 L268.54,478.71 L268.72,479.44 L268.90,480.17 L269.09,480.89 L269.29,481.59 L269.51,482.24 L269.75,482.82 L270.01,483.33 L270.30,483.74 L270.63,484.04 L271.00,484.20 L271.41,484.21 L271.86,484.07 L272.32,483.79 L272.79,483.38 L273.26,482.86 L273.72,482.26 L274.16,481.61 L274.56,480.92 L274.93,480.22 L275.26,479.53 L275.55,478.84 L275.80,478.16 L276.03,477.47 L276.24,476.79 L276.44,476.11 L276.62,475.43 L276.80,474.75 L276.97,474.07 L277.14,473.39 L277.30,472.71 L277.46,472.03 L277.62,471.35 L277.77,470.66 L277.92,469.98 L278.07,469.29 L278.21,468.61 L278.35,467.92 L278.49,467.24 L278.62,466.55 L278.75,465.86 L278.88,465.18 L279.01,464.49 L279.13,463.80 L279.25,463.11 L279.37,462.42 L279.49,461.73 L279.60,461.04 L279.71,460.35 L279.83,459.66 L279.93,458.97 L280.04,458.28 L280.15,457.59 L280.25,456.90 L280.36,456.21 L280.46,455.52 L280.56,454.82 L280.66,454.13 L280.76,453.44 L280.86,452.75 L280.96,452.06 L281.05,451.36 L281.15,450.67 L281.25,449.98 L281.35,449.28 L281.44,448.59 L281.54,447.90 L281.64,447.21 L281.74,446.51 L281.84,445.82 L281.94,445.13 L282.04,444.43 L282.14,443.74 L282.24,443.05 L282.34,442.36 L282.44,441.66 L282.55,440.97 L282.65,440.28 L282.76,439.59 L282.86,438.89 L282.97,438.20 L283.07,437.51 L283.18,436.82 L283.29,436.12 L283.39,435.43 L283.50,434.74 L283.61,434.05 L283.72,433.35 L283.83,432.66 L283.94,431.97 L284.05,431.28 L284.16,430.59 L284.28,429.89 L284.39,429.20 L284.50,428.51 L284.62,427.82 L284.73,427.13 L284.85,426.44 L284.96,425.74 L285.08,425.05 L285.20,424.36 L285.31,423.67 L285.43,422.98 L285.55,422.29 L285.67,421.60 L285.79,420.91 L285.91,420.21 L286.03,419.52 L286.15,418.83 L286.27,418.14 L286.40,417.45 L286.52,416.76 L286.64,416.07 L286.77,415.38 L286.89,414.69 L287.02,414.00 L287.14,413.31 L287.27,412.62 L287.40,411.93 L287.52,411.24 L287.65,410.55 L287.78,409.86 L287.91,409.17 L288.04,408.48 L288.17,407.79 L288.30,407.10 L288.43,406.41 L288.56,405.72 L288.69,405.03 L288.82,404.35 L288.96,403.66 L289.09,402.97 L289.23,402.28 L289.36,401.59 L289.50,400.90 L289.63,400.21 L289.77,399.53 L289.90,398.84 L290.04,398.15 L290.18,397.46 L290.32,396.77 L290.46,396.09 L290.59,395.40 L290.73,394.71 L290.87,394.02 L291.01,393.34 L291.16,392.65 L291.30,391.96 L291.44,391.28 L291.58,390.59 L291.73,389.90 L291.87,389.22 L292.01,388.53 L292.16,387.84 L292.30,387.16 L292.45,386.47 L292.59,385.79 L292.74,385.10 L292.89,384.42 L293.03,383.73 L293.18,383.05 L293.33,382.36 L293.48,381.68 L293.63,380.99 L293.78,380.31 L293.93,379.62 L294.08,378.94 L294.23,378.25 L294.38,377.57 L294.54,376.89 L294.69,376.20 L294.84,375.52 L294.99,374.84 L295.15,374.15 L295.30,373.47 L295.46,372.79 L295.61,372.10 L295.77,371.42 L295.93,370.74 L296.08,370.06 L296.24,369.37 L296.40,368.69 L296.55,368.01 L296.71,367.33 L296.87,366.65 L297.03,365.97 L297.19,365.29 L297.35,364.61 L297.51,363.92 L297.67,363.24 L297.83,362.56 L298.00,361.88 L298.16,361.20 L298.32,360.52 L298.48,359.84 L298.65,359.16 L298.81,358.49 L298.98,357.81 L299.14,357.13 L299.31,356.45 L299.47,355.77 L299.64,355.09 L299.81,354.41 L299.97,353.74 L300.14,353.06 L300.31,352.38 L300.48,351.70 L300.65,351.03 L300.81,350.35 L300.98,349.67 L301.15,349.00 L301.32,348.32 L301.50,347.64 L301.67,346.97 L301.84,346.29 L302.01,345.62 L302.18,344.94 L302.36,344.27 L302.53,343.59 L302.71,342.92 L302.89,342.24 L303.06,341.57 L303.25,340.89 L303.43,340.22 L303.61,339.55 L303.80,338.87 L303.98,338.20 L304.17,337.53 L304.36,336.85 L304.56,336.18 L304.75,335.51 L304.95,334.84 L305.15,334.16 L305.35,333.49 L305.56,332.82 L305.77,332.15 L305.98,331.48 L306.20,330.80 L306.41,330.13 L306.63,329.46 L306.86,328.79 L307.09,328.12 L307.32,327.45 L307.56,326.78 L307.80,326.11 L308.04,325.44 L308.29,324.77 L308.54,324.10 L308.80,323.43 L309.06,322.76 L309.32,322.09 L309.59,321.42 L309.87,320.75 L310.15,320.08 L310.43,319.41 L310.72,318.74 L311.02,318.08 L311.32,317.42 L311.64,316.77 L311.96,316.13 L312.31,315.51 L312.66,314.91 L313.04,314.34 L313.44,313.79 L313.85,313.28 L314.30,312.79 L314.76,312.35 L315.26,311.95 L315.78,311.59 L316.34,311.28 L316.93,311.02 L317.56,310.82 L318.21,310.67 L318.89,310.57 L319.60,310.51 L320.32,310.50 L321.05,310.52 L321.79,310.57 L322.54,310.66 L323.27,310.76 L324.01,310.89 L324.72,311.04 L325.42,311.20 L326.10,311.37 L326.76,311.57 L327.40,311.80 L328.00,312.06 L328.59,312.37 L329.14,312.72 L329.66,313.14 L330.15,313.62 L330.60,314.16 L331.02,314.79 L331.40,315.50" fill="none" stroke="#f00" stroke-width="1.7" stroke-dasharray="5.3 2 1.7 2"/>
<path d="M330.2,241 L330.2,235.6 L331.9,235.6" fill="none" stroke="#111" stroke-width="1.2"/>
</svg>
</body></html>
